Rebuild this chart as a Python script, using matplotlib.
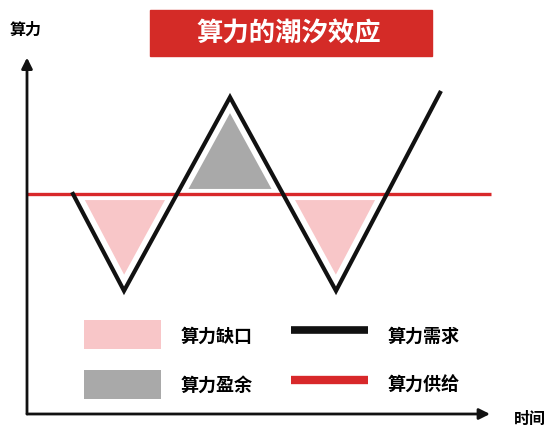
import matplotlib
matplotlib.use('Agg')
import matplotlib.pyplot as plt
import numpy as np
from matplotlib.patches import Rectangle, Patch
from matplotlib.lines import Line2D

plt.rcParams['font.family'] = ['Noto Sans CJK SC', 'DejaVu Sans']

# --- Schematic data (time units vs compute units) ---
time_pts = [2.3, 4.85, 10.15, 15.45, 20.65]     # turning points of demand
demand_pts = [10.0, 5.6, 14.4, 5.6, 14.6]
supply_level = 10.0
supply_span = [0.0, 23.2]
x_axis_end = 23.15
y_axis_end = 16.2

title = '算力的潮汐效应'
y_label = '算力'
x_label = '时间'
legend_labels = ['算力缺口', '算力盈余', '算力需求', '算力供给']

PINK = '#f8c6c8'
GREY = '#a9a9a9'
RED = '#d8282a'
BLACK = '#111111'

fig = plt.figure(figsize=(5.49, 4.27), dpi=100)
ax = fig.add_axes([27 / 549, 12 / 427, 522 / 549, 415 / 427])
ax.set_xlim(0, 522 / 20)
ax.set_ylim(0, 415 / 22)
ax.axis('off')

# dense sampling of the zigzag so fill_between can split at crossings
t = np.linspace(time_pts[0], time_pts[-1], 4000)
d = np.interp(t, time_pts, demand_pts)

# only shade closed cycles: stop at the last crossing of the supply line
last_cross = np.interp(supply_level, demand_pts[-2:], time_pts[-2:])
closed = t <= last_cross

ax.fill_between(t, d, supply_level, where=closed & (d <= supply_level),
                interpolate=True, color=PINK, lw=0, zorder=1)
ax.fill_between(t, d, supply_level, where=closed & (d >= supply_level),
                interpolate=True, color=GREY, lw=0, zorder=1)

# white halos create the gap between fills and lines
ax.plot(supply_span, [supply_level] * 2, color='white', lw=8, zorder=2,
        solid_capstyle='butt')
ax.plot(time_pts, demand_pts, color='white', lw=11, zorder=2,
        solid_joinstyle='miter')

ax.plot(supply_span, [supply_level] * 2, color=RED, lw=2.4, zorder=3,
        solid_capstyle='butt')
ax.plot(time_pts, demand_pts, color=BLACK, lw=3, zorder=4,
        solid_joinstyle='miter')

# axes with arrows
arrow = dict(arrowstyle='-|>', color=BLACK, lw=2, mutation_scale=16,
             shrinkA=0, shrinkB=0)
ax.annotate('', xy=(0, y_axis_end), xytext=(0, 0), arrowprops=arrow,
            annotation_clip=False)
ax.annotate('', xy=(x_axis_end, 0), xytext=(0, 0), arrowprops=arrow,
            annotation_clip=False)

fig.text(26 / 549, 1 - 30 / 427, y_label, ha='center', va='center',
         fontsize=11.5, fontweight='bold')
fig.text(530 / 549, 1 - 419 / 427, x_label, ha='center', va='center',
         fontsize=11.5, fontweight='bold')

# title box
fig.patches.append(Rectangle((150 / 549, 1 - 57 / 427), 282 / 549, 46 / 427,
                             transform=fig.transFigure, color='#d42b27',
                             zorder=0))
fig.text(289 / 549, 1 - 34 / 427, title, ha='center', va='center',
         color='white', fontsize=19, fontweight='bold')

handles = [Patch(color=PINK, lw=0), Patch(color=GREY, lw=0),
           Line2D([], [], color=BLACK, lw=5.5, solid_capstyle='butt'),
           Line2D([], [], color=RED, lw=6, solid_capstyle='butt')]
fig.legend(handles, legend_labels, ncol=2, loc='upper left',
           bbox_to_anchor=(75 / 549, 1 - 312 / 427), frameon=False,
           borderpad=0, handlelength=4.26, handleheight=2.1,
           handletextpad=1.1, columnspacing=2.1, labelspacing=1.15,
           prop=dict(size=13, weight='bold'))

fig.savefig('out.png', dpi=100)
